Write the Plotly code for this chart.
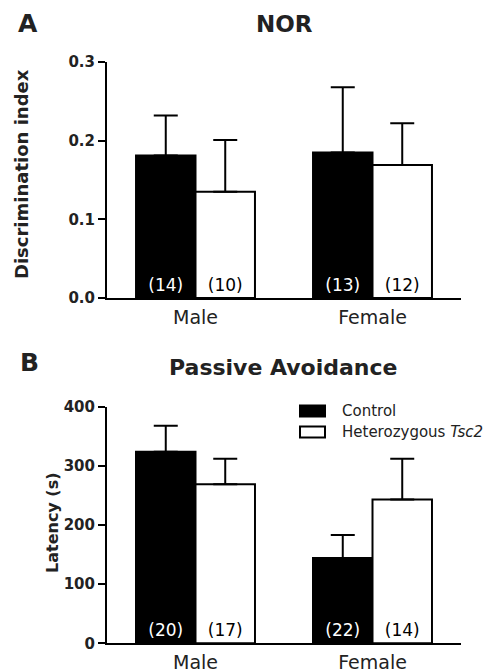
import plotly.graph_objects as go

# ---------------- data ----------------
categories = ["Male", "Female"]
series_names = ["Control", "Heterozygous <i>Tsc2</i>"]
series_fill = ["black", "white"]
series_text_color = ["white", "black"]

nor_control = [0.181, 0.185]
nor_control_err = [0.051, 0.083]
nor_control_n = ["(14)", "(13)"]
nor_het = [0.135, 0.169]
nor_het_err = [0.066, 0.053]
nor_het_n = ["(10)", "(12)"]
nor_ticks = [0.0, 0.1, 0.2, 0.3]

pa_control = [324, 144]
pa_control_err = [44, 39]
pa_control_n = ["(20)", "(22)"]
pa_het = [269, 243]
pa_het_err = [43, 69]
pa_het_n = ["(17)", "(14)"]
pa_ticks = [0, 100, 200, 300, 400]

FONT = "DejaVu Sans"
W, H = 492, 672


def px(x):
    return x / W


def py(y):
    return 1 - y / H


fig = go.Figure()

panels = [
    ("x", "y", [nor_control, nor_het], [nor_control_err, nor_het_err], [nor_control_n, nor_het_n]),
    ("x2", "y2", [pa_control, pa_het], [pa_control_err, pa_het_err], [pa_control_n, pa_het_n]),
]
for xa, ya, vals, errs, ns in panels:
    for i in range(2):
        fig.add_trace(go.Bar(
            x=categories, y=vals[i], xaxis=xa, yaxis=ya,
            name=series_names[i], showlegend=False,
            marker=dict(color=series_fill[i], line=dict(color="black", width=2)),
            error_y=dict(type="data", array=errs[i], arrayminus=[0] * len(errs[i]),
                         symmetric=False, color="black", thickness=2, width=12),
            text=ns[i], textposition="inside", insidetextanchor="start", textangle=0,
            textfont=dict(family=FONT, size=17, color=series_text_color[i]),
            constraintext="none", offsetgroup=str(i), hoverinfo="skip",
        ))

xdom = [px(107), px(461)]
common_x = dict(domain=xdom, range=[-0.5, 1.5], showline=True, linecolor="black", linewidth=2,
                ticks="outside", tickcolor="rgba(0,0,0,0)", tickfont=dict(family=FONT, size=19, color="#222"),
                showgrid=False, zeroline=False, fixedrange=True, automargin=False)
common_y = dict(showline=True, linecolor="black", linewidth=2, ticks="outside", ticklen=7, tickwidth=2,
                tickcolor="black", tickfont=dict(family=FONT, size=15, color="#222", weight="bold"),
                showgrid=False, zeroline=False, automargin=False, fixedrange=True)

fig.update_layout(
    width=W, height=H, autosize=False,
    margin=dict(l=0, r=0, t=0, b=0),
    paper_bgcolor="white", plot_bgcolor="white",
    barmode="group", bargap=0.328, bargroupgap=0,
    xaxis=dict(common_x, anchor="y", ticklen=1),
    xaxis2=dict(common_x, anchor="y2", ticklen=1),
    yaxis=dict(common_y, domain=[py(298), py(62)], range=[0, 0.3], tickvals=nor_ticks,
               ticktext=[f"{v:.1f}" for v in nor_ticks], anchor="x"),
    yaxis2=dict(common_y, domain=[py(643.3), py(406.7)], range=[0, 400], tickvals=pa_ticks,
                ticktext=[str(v) for v in pa_ticks], anchor="x2"),
)

ann = []
def add_text(text, x, y, size, bold=False, angle=0, xanchor="center"):
    ann.append(dict(text=text, x=x, y=y, xref="paper", yref="paper", showarrow=False,
                    xanchor=xanchor, yanchor="middle", textangle=angle,
                    font=dict(family=FONT, size=size, color="#222", weight="bold" if bold else "normal")))

add_text("A", px(28), py(24), 25, bold=True)
add_text("NOR", px(284), py(23.5), 23, bold=True)
add_text("B", px(29), py(362), 25, bold=True)
add_text("Passive Avoidance", px(283.5), py(367.5), 22, bold=True)
add_text("Discrimination index", px(22), py(174), 18, bold=True, angle=-90)
add_text("Latency (s)", px(52), py(523), 16, bold=True, angle=-90)

# legend (manual)
leg_rows = [411, 432]
for i, name in enumerate(series_names):
    add_text(name, px(340), py(leg_rows[i]), 15, xanchor="left")
    fig.add_shape(type="rect", xref="paper", yref="paper",
                  x0=px(300), x1=px(325), y0=py(leg_rows[i] + 5.5), y1=py(leg_rows[i] - 5.5),
                  fillcolor=series_fill[i], line=dict(color="black", width=2))

fig.update_layout(annotations=ann)
fig.write_html("out.html", config={"displayModeBar": False},
               post_script="document.body.style.margin='0';document.body.style.overflow='hidden';")
